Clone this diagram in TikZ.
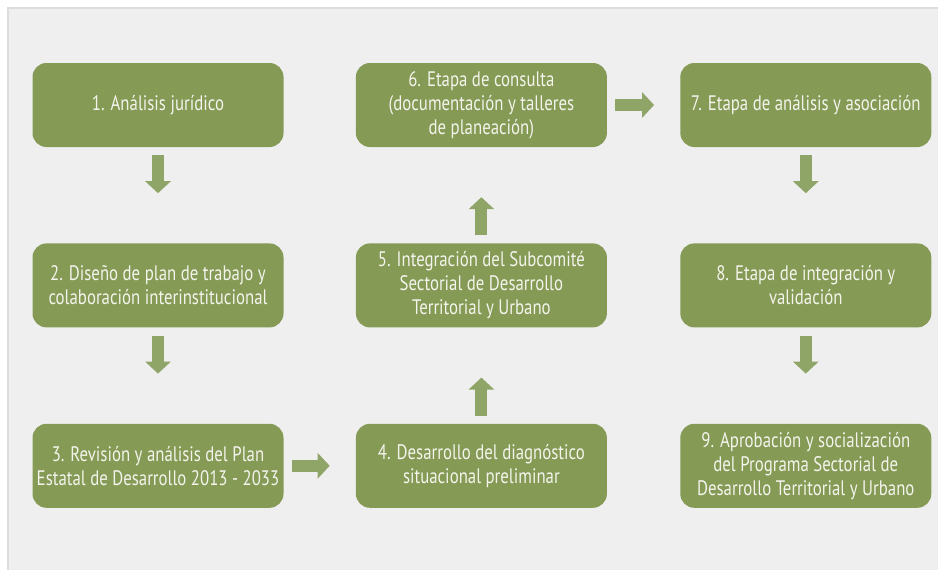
\documentclass[tikz,border=0pt]{standalone}
\usepackage{fontspec}
\setmainfont[FakeStretch=0.8]{PT Sans}
\usepackage{xcolor}
\usepackage{tikz}
\usetikzlibrary{arrows.meta,positioning}

\definecolor{boxgreen}{HTML}{849A55}
\definecolor{arrgreen}{HTML}{8FA567}
\definecolor{boxtext}{HTML}{F4F4EC}
\definecolor{panelgray}{HTML}{EFEFEF}
\definecolor{panelline}{HTML}{DCDCDC}

\begin{document}
\begin{tikzpicture}[x=1pt, y=-1pt,
  box/.style={fill=boxgreen, rounded corners=14pt, align=center, text=boxtext,
    font=\fontsize{21}{24}\selectfont, minimum width=251pt, minimum height=84pt, inner sep=2pt},
  vflow/.style={draw=arrgreen, line width=12pt, -{Triangle[length=12pt, width=25pt]},
    shorten <=8pt, shorten >=50pt},
  hflow/.style={draw=arrgreen, line width=12pt, -{Triangle[length=12pt, width=25pt]},
    shorten <=8pt, shorten >=26pt}]
\useasboundingbox (0,0) rectangle (938,570);
\fill[white] (0,0) rectangle (938,570);
\fill[panelgray] (8,8) rectangle (938,570);
\draw[panelline, line width=1.5pt] (8,570) -- (8,8) -- (938,8);
% left column
\node[box] (n1) at (158,105) {1. Análisis jurídico};
\node[box, below=96pt of n1] (n2) {2. Diseño de plan de trabajo y\\colaboración interinstitucional};
\node[box, below=96pt of n2] (n3) {3. Revisión y análisis del Plan\\Estatal de Desarrollo 2013 - 2033};
% middle column
\node[box, right=72pt of n3] (n4) {4. Desarrollo del diagnóstico\\situacional preliminar};
\node[box, above=96pt of n4] (n5) {5. Integración del Subcomité\\Sectorial de Desarrollo\\Territorial y Urbano};
\node[box, above=96pt of n5] (n6) {6. Etapa de consulta\\(documentación y talleres\\de planeación)};
% right column
\node[box, right=73pt of n6] (n7) {7. Etapa de análisis y asociación};
\node[box, below=96pt of n7] (n8) {8. Etapa de integración y\\validación};
\node[box, below=96pt of n8] (n9) {9. Aprobación y socialización\\del Programa Sectorial de\\Desarrollo Territorial y Urbano};
% flow
\draw[vflow] (n1) -- (n2);
\draw[vflow] (n2) -- (n3);
\draw[hflow] (n3) -- (n4);
\draw[vflow] (n4) -- (n5);
\draw[vflow] (n5) -- (n6);
\draw[hflow] (n6) -- (n7);
\draw[vflow] (n7) -- (n8);
\draw[vflow] (n8) -- (n9);
\end{tikzpicture}
\end{document}
